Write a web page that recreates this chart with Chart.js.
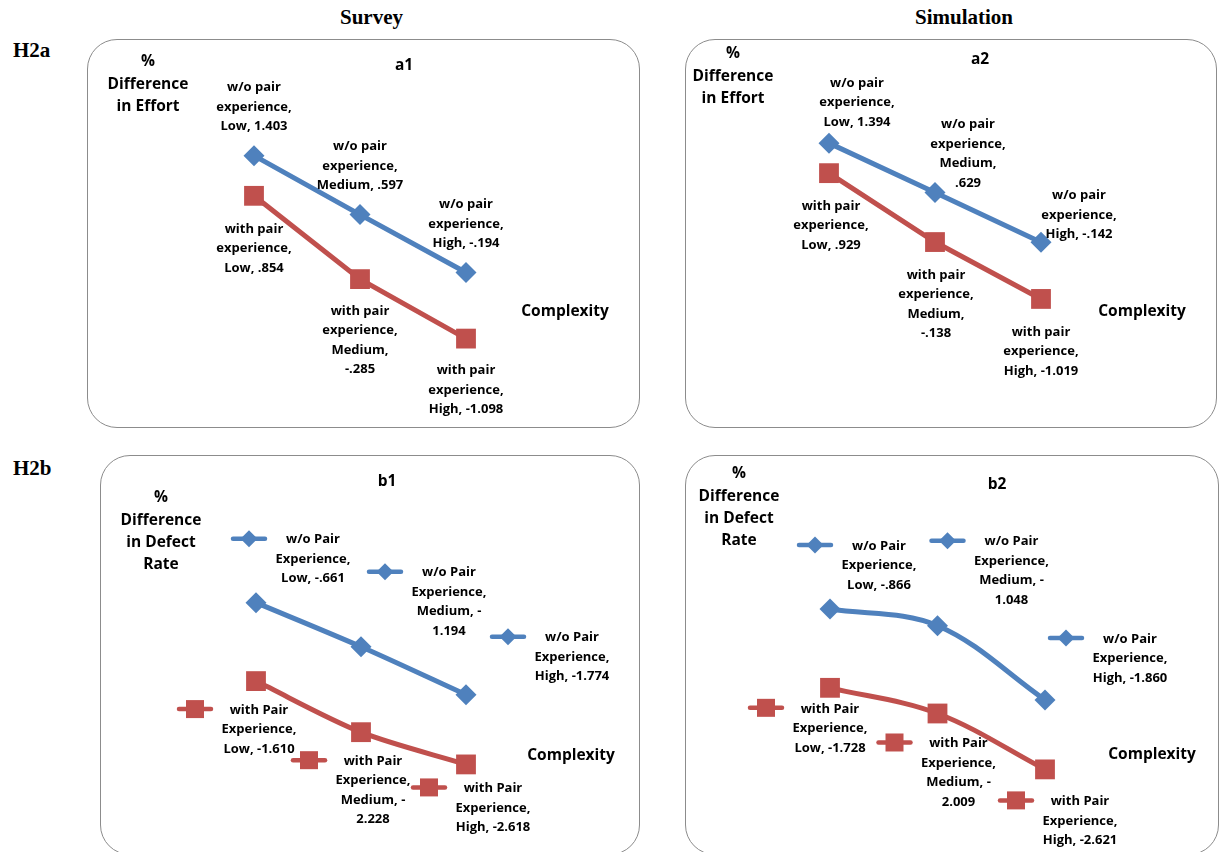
<!DOCTYPE html>
<html>
<head>
<meta charset="utf-8">
<script src="https://cdn.jsdelivr.net/npm/chart.js@4.4.1/dist/chart.umd.min.js"></script>
<style>
  html, body { margin: 0; padding: 0; background: #fff; }
  body { width: 1221px; height: 852px; overflow: hidden; position: relative; }
  .hdr { position: absolute; font-family: "Liberation Serif", "Times New Roman", serif; font-weight: bold; font-size: 21px; color: #000; line-height: 1; }
  .box { position: absolute; border: 1.6px solid #8c8c8c; border-radius: 30px; box-sizing: border-box; background: #fff; }
  canvas { position: absolute; }
</style>
</head>
<body>
<div class="hdr" style="left:340px; top:7px;">Survey</div>
<div class="hdr" style="left:915px; top:7px;">Simulation</div>
<div class="hdr" style="left:13px; top:40px;">H2a</div>
<div class="hdr" style="left:13px; top:458px;">H2b</div>

<script>
// ---- data ----
const complexityLevels = ['Low', 'Medium', 'High'];
const effortSeriesNames = ['w/o pair experience', 'with pair experience'];
const defectSeriesNames = ['w/o Pair Experience', 'with Pair Experience'];
const effortAxisTitle = ['%', 'Difference', 'in Effort'];
const defectAxisTitle = ['%', 'Difference', 'in Defect', 'Rate'];
const xAxisTitle = 'Complexity';
const panelTitles = ['a1', 'a2', 'b1', 'b2'];

// H2a: % difference in effort
const a1WithoutPair = [1.403, 0.597, -0.194];
const a1WithPair = [0.854, -0.285, -1.098];
const a2WithoutPair = [1.394, 0.629, -0.142];
const a2WithPair = [0.929, -0.138, -1.019];

// H2b: % difference in defect rate
const b1WithoutPair = [-0.661, -1.194, -1.774];
const b1WithPair = [-1.610, -2.228, -2.618];
const b2WithoutPair = [-0.866, -1.048, -1.860];
const b2WithPair = [-1.728, -2.009, -2.621];

// ---- styling ----
const BLUE = '#4F81BD';
const RED = '#C0504D';
const LABEL_FONT = 'bold 13px "Open Sans", sans-serif';
const TITLE_FONT = 'bold 15.5px "Open Sans", sans-serif';
const LABEL_LINE = 19.5;
const TITLE_LINE = 22.3;

// value text like ".597", "-1.098"
function fmtValue(v) {
  return v.toFixed(3).replace(/^(-?)0\./, '$1.');
}

// Lines of a data label: series name, category, value
function labelLines(seriesName, category, value, splitTail) {
  const cut = seriesName.lastIndexOf(' ');
  const lines = [seriesName.slice(0, cut), seriesName.slice(cut + 1) + ','];
  const v = fmtValue(value);
  if (!splitTail) {
    lines.push(category + ', ' + v);
  } else if (/^-\d/.test(v)) {
    lines.push(category + ', -', v.slice(1));
  } else {
    lines.push(category + ',', v);
  }
  return lines;
}

function drawMarker(ctx, style, x, y, size, color) {
  ctx.save();
  ctx.fillStyle = color;
  ctx.beginPath();
  if (style === 'rectRot') {
    ctx.moveTo(x - size, y); ctx.lineTo(x, y - size); ctx.lineTo(x + size, y); ctx.lineTo(x, y + size);
  } else {
    ctx.rect(x - size, y - size, size * 2, size * 2);
  }
  ctx.closePath();
  ctx.fill();
  ctx.restore();
}

// Draws panel title, axis titles, data labels and (optional) legend keys
const panelTextPlugin = {
  id: 'panelText',
  afterDatasetsDraw(chart, args, opts) {
    const ctx = chart.ctx;
    ctx.save();
    ctx.fillStyle = '#000';
    ctx.textAlign = 'center';
    ctx.textBaseline = 'middle';

    ctx.font = TITLE_FONT;
    ctx.fillText(opts.title, opts.titlePos[0], opts.titlePos[1]);
    opts.yTitle.forEach((t, i) => ctx.fillText(t, opts.yTitlePos[0], opts.yTitlePos[1] + i * TITLE_LINE));
    ctx.fillText(xAxisTitle, opts.xTitlePos[0], opts.xTitlePos[1]);

    ctx.font = LABEL_FONT;
    chart.data.datasets.forEach((ds, di) => {
      const meta = chart.getDatasetMeta(di);
      meta.data.forEach((pt, i) => {
        const off = opts.offsets[di][i];
        const cx = pt.x + off[0];
        const cy = pt.y + off[1];
        if (opts.keys) {
          const kx = cx - 64, ky = cy - 1;
          ctx.save();
          ctx.strokeStyle = ds.borderColor;
          ctx.lineWidth = 4.5;
          ctx.lineCap = 'round';
          ctx.beginPath();
          ctx.moveTo(kx - 16, ky); ctx.lineTo(kx + 16, ky);
          ctx.stroke();
          ctx.restore();
          drawMarker(ctx, ds.pointStyle, kx, ky, ds.pointStyle === 'rectRot' ? 8.5 : 9, ds.borderColor);
        }
        const lines = labelLines(ds.label, chart.data.labels[i], ds.data[i], opts.splitTail[di][i]);
        ctx.fillStyle = '#000';
        lines.forEach((ln, li) => ctx.fillText(ln, cx, cy + li * LABEL_LINE));
      });
    });
    ctx.restore();
  }
};

function makeSeries(name, values, color, style, tension) {
  return {
    label: name,
    data: values,
    borderColor: color,
    backgroundColor: color,
    borderWidth: 5,
    pointStyle: style,
    pointRadius: style === 'rectRot' ? 10.5 : 14,
    pointBorderWidth: 0,
    pointBackgroundColor: color,
    tension: tension,
    clip: false
  };
}

const panels = [
  {
    title: panelTitles[0], names: effortSeriesNames, values: [a1WithoutPair, a1WithPair], yTitle: effortAxisTitle,
    box: [87, 39, 553, 389], pad: { left: 167, right: 174, top: 73, bottom: 60 }, yRange: [-1.5, 2], tension: 0,
    titlePos: [317, 27], yTitlePos: [61, 23], xTitlePos: [478, 273],
    splitTail: [[false, false, false], [false, true, false]],
    offsets: [[[0, -68], [0, -68], [0, -68]], [[0, 33], [0, 32], [0, 32]]], keys: false
  },
  {
    title: panelTitles[1], names: effortSeriesNames, values: [a2WithoutPair, a2WithPair], yTitle: effortAxisTitle,
    box: [685, 39, 532, 389], pad: { left: 144, right: 176, top: 65, bottom: 98 }, yRange: [-1.5, 2], tension: 0,
    titlePos: [295, 21], yTitlePos: [48, 15], xTitlePos: [457, 273],
    splitTail: [[false, true, false], [false, true, false]],
    offsets: [[[28, -60], [33, -68], [38, -47]], [[2, 33], [1, 33], [0, 33]]], keys: false
  },
  {
    title: panelTitles[2], names: defectSeriesNames, values: [b1WithoutPair, b1WithPair], yTitle: defectAxisTitle,
    box: [100, 455, 540, 400], pad: { left: 156, right: 174, top: 93, bottom: 59 }, yRange: [-3, 0], tension: 0.3,
    titlePos: [287, 27], yTitlePos: [61, 43], xTitlePos: [471, 301],
    splitTail: [[false, true, false], [false, true, false]],
    offsets: [[[57, -63], [88, -74], [106, -57]], [[3, 29], [12, 29], [27, 24]]], keys: true
  },
  {
    title: panelTitles[3], names: defectSeriesNames, values: [b2WithoutPair, b2WithPair], yTitle: defectAxisTitle,
    box: [685, 455, 534, 400], pad: { left: 145, right: 174, top: 75, bottom: 51 }, yRange: [-3, 0], tension: 0.35,
    titlePos: [312, 30], yTitlePos: [54, 19], xTitlePos: [467, 300],
    splitTail: [[false, true, false], [false, true, false]],
    offsets: [[[49, -63], [74, -84], [85, -61]], [[0, 21], [21, 30], [35, 32]]], keys: true
  }
];

panels.forEach(p => {
  const [left, top, w, h] = p.box;
  const frame = document.createElement('div');
  frame.className = 'box';
  Object.assign(frame.style, { left: left + 'px', top: top + 'px', width: w + 'px', height: h + 'px' });
  document.body.appendChild(frame);

  const canvas = document.createElement('canvas');
  canvas.width = w; canvas.height = h;
  Object.assign(canvas.style, { left: left + 'px', top: top + 'px', width: w + 'px', height: h + 'px' });
  document.body.appendChild(canvas);

  new Chart(canvas, {
    type: 'line',
    data: {
      labels: complexityLevels,
      datasets: [
        makeSeries(p.names[0], p.values[0], BLUE, 'rectRot', p.tension),
        makeSeries(p.names[1], p.values[1], RED, 'rect', p.tension)
      ]
    },
    options: {
      responsive: false,
      animation: false,
      devicePixelRatio: 1,
      layout: { padding: p.pad },
      scales: {
        x: { type: 'category', offset: false, display: false },
        y: { type: 'linear', min: p.yRange[0], max: p.yRange[1], display: false }
      },
      plugins: {
        legend: { display: false },
        title: { display: false },
        tooltip: { enabled: false },
        panelText: {
          title: p.title, yTitle: p.yTitle,
          titlePos: p.titlePos, yTitlePos: p.yTitlePos, xTitlePos: p.xTitlePos,
          splitTail: p.splitTail, offsets: p.offsets, keys: p.keys
        }
      }
    },
    plugins: [panelTextPlugin]
  });
});
</script>
</body>
</html>
